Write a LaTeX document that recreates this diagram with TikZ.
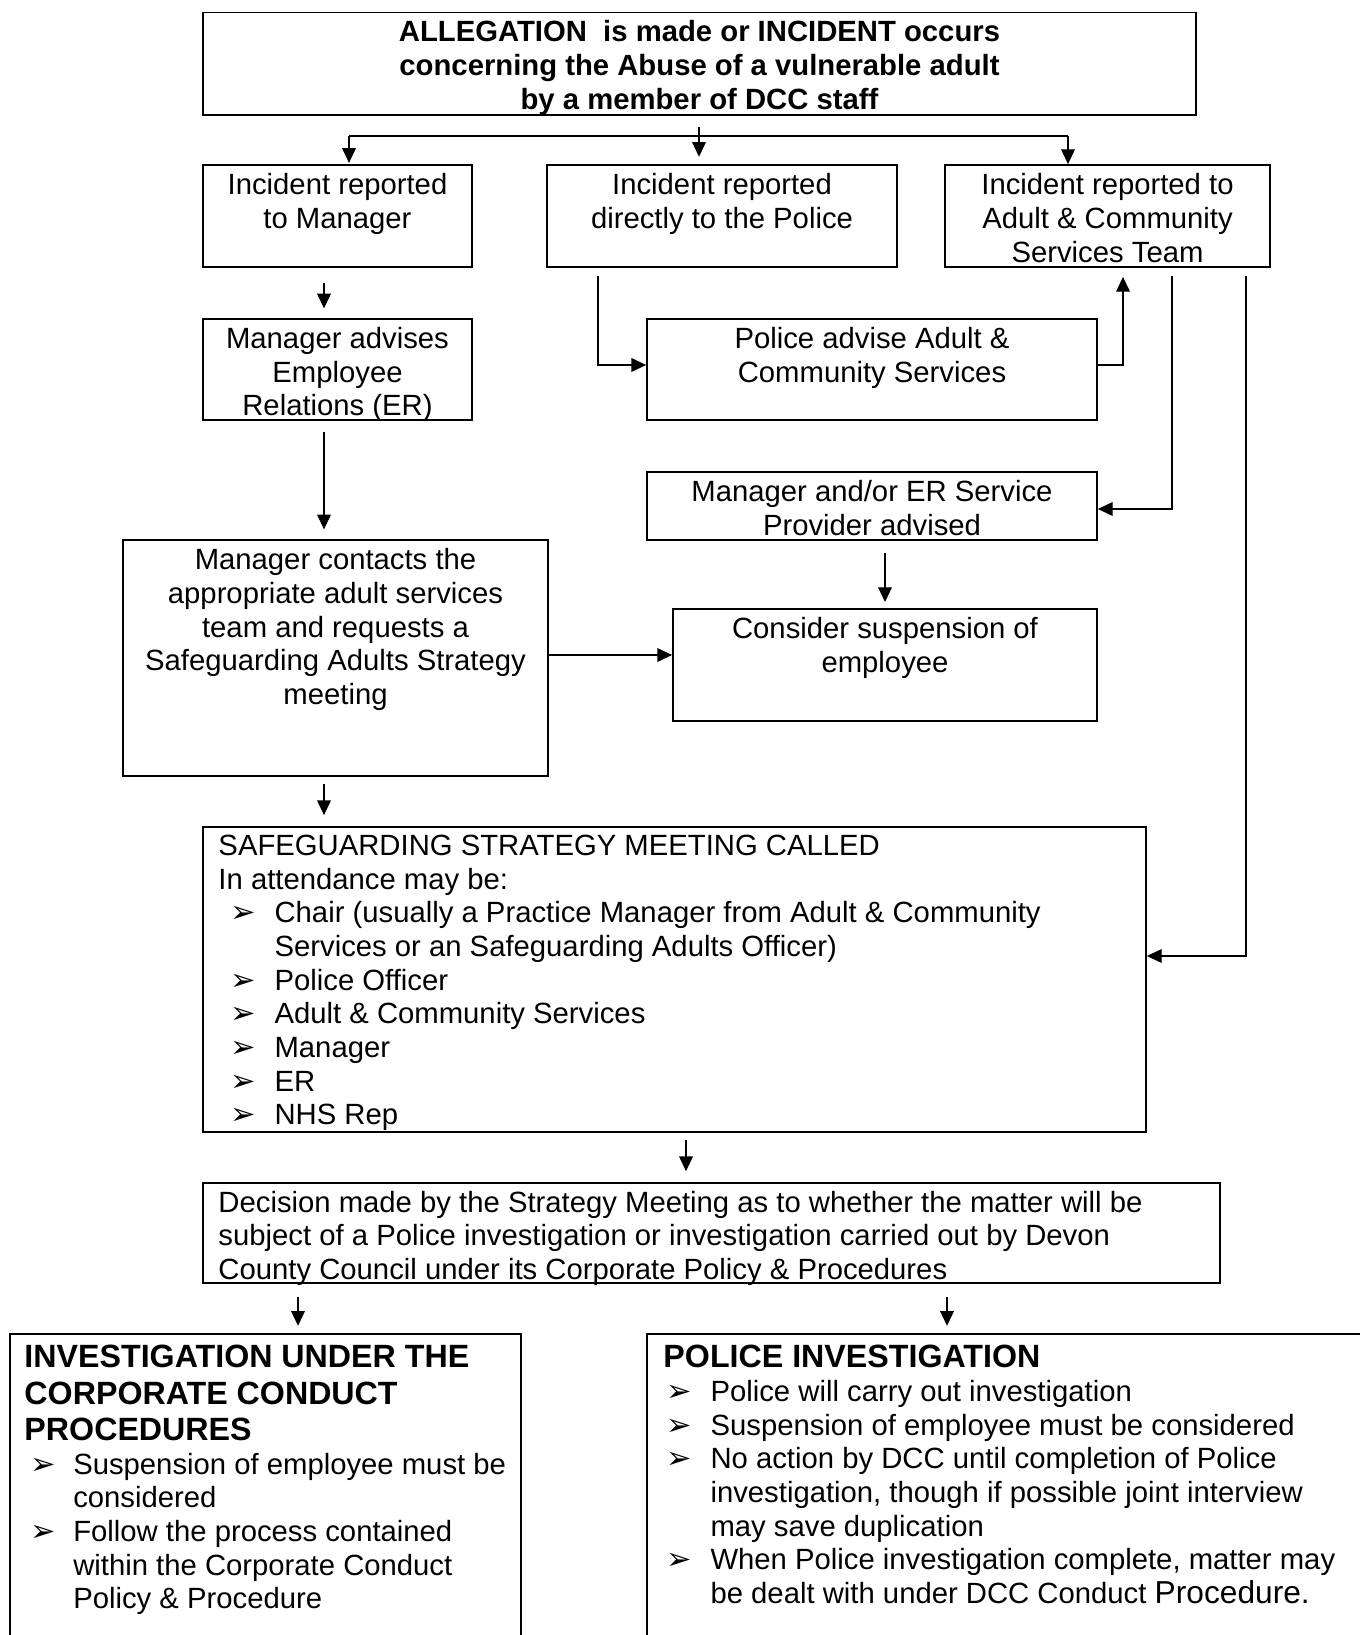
\documentclass[tikz,border=0pt]{standalone}
\usepackage{fontspec}
\setmainfont{Liberation Sans}
\newfontfamily\dingfont{DejaVu Sans}
\usetikzlibrary{arrows.meta,fit,calc}

% bullet lists with a hanging indent
\newlength\hangw
\newlength\bulx
\newcommand\bul{{\dingfont\fontsize{12.5}{13}\selectfont ➢}}
\newcommand\bitem[1]{\par\hangindent=\hangw\hangafter=1\noindent\makebox[\hangw][l]{\hspace*{\bulx}\bul}#1}
\newcommand\bodyfont{\fontsize{12}{13.8}\selectfont}
\newcommand\headfont{\fontsize{13.2}{14.9}\selectfont\bfseries}
% use the font's own interword space instead of the ragged default
\newcommand\fontspaces{\spaceskip=0pt\xspaceskip=0pt\relax}

\begin{document}
\begin{tikzpicture}[x=0.41pt,y=-0.41pt,
  box/.style={draw, line width=0.75pt, inner sep=0pt},
  txt/.style={inner sep=0pt, anchor=north, align=center, font=\bodyfont,
    execute at begin node=\fontspaces},
  btxt/.style={txt, font=\fontsize{12}{13.8}\selectfont\bfseries},
  ltxt/.style={inner sep=0pt, anchor=north west, align=left, font=\bodyfont,
    execute at begin node={\setlength\parindent{0pt}\setlength\parskip{0pt}\fontspaces}},
  ln/.style={line width=0.45pt},
  arr/.style={line width=0.45pt, -{Triangle[length=6pt,width=5.6pt]}}]
\useasboundingbox (0,0) rectangle (1360,1635);
\clip (0,0) rectangle (1360,1635);

% ---- boxes ----
\node[box, fit={(203,12.5) (1196,115)}] (top) {};
\node[box, fit={(203,165) (472,267)}] (a) {};
\node[box, fit={(547,165) (897,267)}] (b) {};
\node[box, fit={(945,165) (1270,267)}] (c) {};
\node[box, fit={(203,319) (472,420)}] (d) {};
\node[box, fit={(647,319) (1097,420)}] (e) {};
\node[box, fit={(647,472) (1097,540)}] (f) {};
\node[box, fit={(123,540) (548,776)}] (g) {};
\node[box, fit={(673,609) (1097,721)}] (h) {};
\node[box, fit={(203,827) (1146,1132)}] (i) {};
\node[box, fit={(203,1183) (1220,1283)}] (j) {};
\node[box, fit={(10,1334) (521,1700)}] (k) {};
\node[box, fit={(647,1334) (1400,1700)}] (l) {};

% ---- box texts ----
\node[btxt] (toptxt) at ([yshift=-2.6pt]top.north) {\strut ALLEGATION\ \ is made or INCIDENT occurs\\concerning the Abuse of a vulnerable adult\\by a member of DCC staff};
\node[txt] (atxt) at ([yshift=-2.8pt]a.north) {\strut Incident reported\\to Manager};
\node[txt] (btxt) at ([yshift=-2.8pt]b.north) {\strut Incident reported\\directly to the Police};
\node[txt] (ctxt) at ([yshift=-2.8pt]c.north) {\strut Incident reported to\\Adult \& Community\\Services Team};
\node[txt] (dtxt) at ([yshift=-2.6pt]d.north) {\strut Manager advises\\Employee\\Relations (ER)};
\node[txt] (etxt) at ([yshift=-2.6pt]e.north) {\strut Police advise Adult \&\\Community Services};
\node[txt] (ftxt) at ([yshift=-2.6pt]f.north) {\strut Manager and/or ER Service\\Provider advised};
\node[txt] (gtxt) at ([yshift=-2.7pt]g.north) {\strut Manager contacts the\\appropriate adult services\\team and requests a\\Safeguarding Adults Strategy\\meeting};
\node[txt] (htxt) at ([yshift=-2.7pt]h.north) {\strut Consider suspension of\\employee};

\node[ltxt, text width=390pt, execute at begin node={\setlength\hangw{23pt}\setlength\bulx{4.8pt}}] (itxt) at (218,831.5)
{\fontspaces\strut SAFEGUARDING STRATEGY MEETING CALLED\par
In attendance may be:
\bitem{Chair (usually a Practice Manager from Adult \& Community\newline Services or an Safeguarding Adults Officer)}
\bitem{Police Officer}
\bitem{Adult \& Community Services}
\bitem{Manager}
\bitem{ER}
\bitem{NHS Rep}\par};

\node[ltxt, text width=410pt] (jtxt) at (218,1188)
{\fontspaces\strut Decision made by the Strategy Meeting as to whether the matter will be\newline
subject of a Police investigation or investigation carried out by Devon\newline
County Council under its Corporate Policy \& Procedures\par};

\node[ltxt, text width=205pt, execute at begin node={\setlength\hangw{20pt}\setlength\bulx{2.4pt}}] (ktxt) at (24,1342)
{\fontspaces{\headfont\strut INVESTIGATION UNDER THE\newline CORPORATE CONDUCT\newline PROCEDURES\par}
\bitem{Suspension of employee must be\newline considered}
\bitem{Follow the process contained\newline within the Corporate Conduct\newline Policy \& Procedure}\par};

\node[ltxt, text width=280pt, execute at begin node={\setlength\hangw{19.3pt}\setlength\bulx{1.2pt}}] (ltxt) at (663,1342)
{\fontspaces{\headfont\strut POLICE INVESTIGATION\par}
\bitem{Police will carry out investigation}
\bitem{Suspension of employee must be considered}
\bitem{No action by DCC until completion of Police\newline investigation, though if possible joint interview\newline may save duplication}
\bitem{When Police investigation complete, matter may\newline be dealt with under DCC Conduct {\fontsize{13}{14.9}\selectfont Procedure.}}\par};

% ---- connector guides ----
\coordinate (j0) at (699,136);
\coordinate (xa) at (349,0);
\coordinate (xc) at (1068,0);
\coordinate (xl) at (324,0);
\coordinate (xb) at (598,365);
\coordinate (xe) at (1123,365);
\coordinate (xf) at (1172,509);
\coordinate (xi) at (1246,956);
\coordinate (xh) at (885,0);
\coordinate (gh) at (0,655);
\coordinate (xj) at (686,0);
\coordinate (xk) at (298,0);
\coordinate (xm) at (947,0);

% ---- connectors ----
\draw[arr, shorten <=4.5pt, shorten >=3pt] (top.south -| j0) -- (b.north -| j0);
\draw[ln] (j0 -| xa) -- (j0 -| xc);
\draw[arr, shorten >=0.5pt] (j0 -| xa) -- (a.north -| xa);
\draw[arr] (j0 -| xc) -- (c.north -| xc);

\draw[arr, shorten <=6pt, shorten >=4pt] (a.south -| xl) -- (d.north -| xl);
\draw[arr] ([yshift=-3.3pt]b.south -| xb) -- (xb) -- (e.west |- xb);
\draw[arr, shorten >=3.7pt] (e.east |- xe) -- (xe) -- (c.south -| xe);
\draw[arr] ([yshift=-3.3pt]c.south -| xf) -- (xf) -- (f.east |- xf);
\draw[arr] ([yshift=-3.3pt]c.south -| xi) -- (xi) -- (i.east |- xi);
\draw[arr, shorten <=4.5pt, shorten >=4pt] (d.south -| xl) -- (g.north -| xl);
\draw[arr, shorten <=5pt, shorten >=2.5pt] (f.south -| xh) -- (h.north -| xh);
\draw[arr] (g.east |- gh) -- (h.west |- gh);
\draw[arr, shorten <=3pt, shorten >=4.5pt] (g.south -| xl) -- (i.north -| xl);
\draw[arr, shorten <=3pt, shorten >=4.5pt] (i.south -| xj) -- (j.north -| xj);
\draw[arr, shorten <=5.3pt, shorten >=3pt] (j.south -| xk) -- (k.north -| xk);
\draw[arr, shorten <=5.3pt, shorten >=3pt] (j.south -| xm) -- (l.north -| xm);
\end{tikzpicture}
\end{document}
